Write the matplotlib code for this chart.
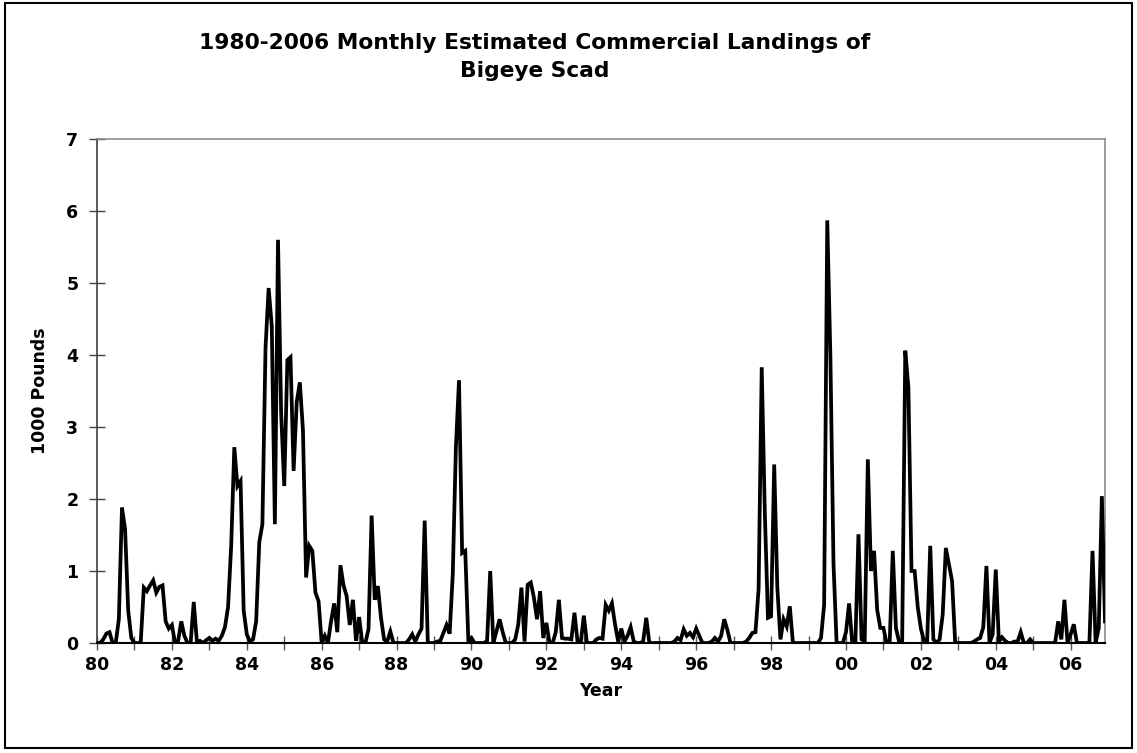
import matplotlib
matplotlib.use("Agg")
import matplotlib.pyplot as plt
import matplotlib.ticker as mticker
from matplotlib.patches import Rectangle

# Monthly landings (1000 lb), one list per year, Jan..Dec
y1980 = [0, 0, 0.05, 0.13, 0.15, 0, 0, 0.33, 1.88, 1.58, 0.45, 0.07]
y1981 = [0, 0, 0, 0.77, 0.72, 0.8, 0.87, 0.7, 0.78, 0.8, 0.3, 0.2]
y1982 = [0.25, 0, 0.03, 0.3, 0.1, 0, 0, 0.57, 0.02, 0.03, 0, 0.04]
y1983 = [0.07, 0.03, 0.06, 0.03, 0.1, 0.22, 0.5, 1.35, 2.72, 2.18, 2.25, 0.45]
y1984 = [0.12, 0.02, 0.05, 0.3, 1.4, 1.65, 4.1, 4.93, 4.4, 1.65, 5.6, 3.2]
y1985 = [2.18, 3.93, 3.97, 2.39, 3.35, 3.62, 2.95, 0.91, 1.35, 1.28, 0.7, 0.58]
y1986 = [0, 0.1, 0, 0.3, 0.55, 0.15, 1.08, 0.8, 0.65, 0.25, 0.6, 0.03]
y1987 = [0.36, 0, 0, 0.19, 1.77, 0.6, 0.79, 0.35, 0.05, 0.02, 0.16, 0]
y1988 = [0, 0, 0, 0, 0.05, 0.12, 0.02, 0.12, 0.2, 1.7, 0, 0]
y1989 = [0, 0.02, 0.03, 0.14, 0.25, 0.13, 0.95, 2.72, 3.65, 1.25, 1.28, 0.02]
y1990 = [0.07, 0, 0, 0, 0, 0.03, 1.0, 0, 0.16, 0.33, 0.15, 0]
y1991 = [0, 0, 0.05, 0.26, 0.77, 0.02, 0.81, 0.84, 0.63, 0.33, 0.72, 0.07]
y1992 = [0.28, 0, 0, 0.15, 0.6, 0.07, 0.06, 0.06, 0.05, 0.42, 0.01, 0]
y1993 = [0.38, 0, 0, 0, 0.05, 0.07, 0.06, 0.53, 0.45, 0.55, 0.26, 0.02]
y1994 = [0.2, 0.02, 0.1, 0.22, 0.02, 0, 0, 0.02, 0.35, 0, 0, 0]
y1995 = [0, 0, 0, 0, 0, 0.02, 0.07, 0.04, 0.19, 0.1, 0.14, 0.08]
y1996 = [0.2, 0.1, 0, 0, 0, 0.02, 0.07, 0.02, 0.1, 0.33, 0.18, 0]
y1997 = [0, 0, 0, 0, 0.02, 0.07, 0.14, 0.15, 0.75, 3.83, 1.8, 0.35]
y1998 = [0.37, 2.48, 0.77, 0.05, 0.33, 0.23, 0.51, 0, 0, 0, 0, 0]
y1999 = [0, 0, 0, 0, 0.07, 0.53, 5.87, 4.0, 1.1, 0, 0, 0]
y2000 = [0.15, 0.55, 0, 0, 1.51, 0.05, 0.02, 2.55, 1.0, 1.28, 0.46, 0.21]
y2001 = [0.21, 0, 0, 1.28, 0.21, 0.02, 0, 4.06, 3.55, 1.0, 1.0, 0.5]
y2002 = [0.2, 0.03, 0, 1.35, 0.05, 0, 0.05, 0.4, 1.32, 1.09, 0.86, 0]
y2003 = [0, 0, 0, 0, 0, 0.02, 0.05, 0.07, 0.22, 1.07, 0, 0.12]
y2004 = [1.02, 0.02, 0.08, 0.03, 0, 0, 0.02, 0.02, 0.15, 0, 0, 0.05]
y2005 = [0, 0, 0, 0, 0, 0, 0, 0, 0.3, 0.05, 0.6, 0]
y2006 = [0.12, 0.26, 0, 0, 0, 0, 0, 1.28, 0, 0.21, 2.04, 0.3]

years = list(range(1980, 2007))
year_labels = [f"{y % 100:02d}" if y % 2 == 0 else "" for y in years]
y_ticks = [0, 1, 2, 3, 4, 5, 6, 7]

by_year = [y1980, y1981, y1982, y1983, y1984, y1985, y1986, y1987, y1988,
           y1989, y1990, y1991, y1992, y1993, y1994, y1995, y1996, y1997,
           y1998, y1999, y2000, y2001, y2002, y2003, y2004, y2005, y2006]

landings = [v for yr in by_year for v in yr]
t = [1980 + i / 12 for i in range(len(landings))]

W, H = 1137, 753
fig = plt.figure(figsize=(W / 100, H / 100), dpi=100)
plt.rcParams["font.family"] = ["DejaVu Sans"]

# outer chart border
fig.patches.append(Rectangle((5 / W, 5 / H), 1 - 10 / W, 1 - 8 / H,
                             transform=fig.transFigure, fill=False,
                             edgecolor="black", linewidth=1.5))

ax = fig.add_axes([97 / W, 1 - 643 / H, (1105 - 97) / W, (643 - 139) / H])
ax.plot(t, landings, color="black", linewidth=2.7, solid_joinstyle="miter",
        zorder=3)

ax.set_xlim(t[0], t[-1])
ax.set_ylim(0, 7)
ax.set_xticks(years)
ax.set_xticklabels(year_labels)
ax.set_yticks(y_ticks)
ax.yaxis.set_major_formatter(mticker.FormatStrFormatter("%d"))

for s in ("top", "right"):
    ax.spines[s].set_color("#8c8c8c")
    ax.spines[s].set_linewidth(1.2)
ax.spines["left"].set_color("#404040")
ax.spines["left"].set_linewidth(1.2)
ax.spines["bottom"].set_color("black")
ax.spines["bottom"].set_linewidth(1.5)

ax.tick_params(axis="x", direction="inout", length=10, width=1, color="#555555",
               labelsize=12.5, pad=4)
ax.tick_params(axis="y", direction="inout", length=11, width=1, color="#404040",
               labelsize=12.5, pad=8)
for lbl in ax.get_xticklabels() + ax.get_yticklabels():
    lbl.set_fontweight("bold")

ax.set_xlabel("Year", fontsize=12.5, fontweight="bold", labelpad=6)
ax.set_ylabel("1000 Pounds", fontsize=12.5, fontweight="bold", labelpad=12)

fig.text(535 / W, 1 - 57 / H,
         "1980-2006 Monthly Estimated Commercial Landings of\nBigeye Scad",
         ha="center", va="center", fontsize=15.7, fontweight="bold",
         linespacing=1.55)

fig.savefig("out.png", dpi=100)
